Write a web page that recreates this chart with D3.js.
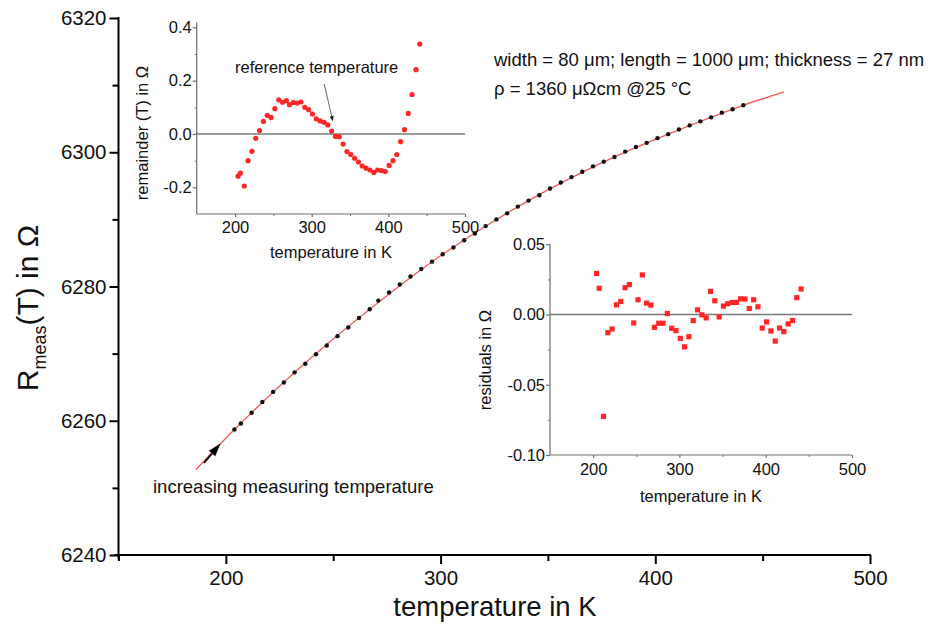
<!DOCTYPE html>
<html>
<head>
<meta charset="utf-8">
<script src="https://cdn.jsdelivr.net/npm/d3@7"></script>
<style>
  html, body { margin: 0; padding: 0; background: #fff; }
  svg { display: block; }
  text { font-family: "Liberation Sans", Arial, Helvetica, sans-serif; fill: #111; }
</style>
</head>
<body>
<svg id="chart" width="942" height="640"></svg>
<script>
// Measurement temperatures (K)
const temps = [204, 207, 212, 217, 222, 227, 232, 237, 242, 247, 252, 257, 262, 267, 271, 276, 281,
  286, 291, 296, 301, 306, 311, 316, 321, 326, 331, 336, 341, 346, 351, 356, 361, 366, 371, 376,
  381, 386, 391, 396, 401, 406, 411, 416, 421, 426, 431, 436, 441];

// Measured resistance R_meas(T) in Ohm
const rMeas = [6258.7, 6259.6, 6261.2, 6262.8, 6264.3, 6265.7, 6267.2, 6268.5, 6269.9, 6271.2,
  6272.6, 6273.9, 6275.3, 6276.6, 6277.9, 6279.1, 6280.3, 6281.5, 6282.6, 6283.7, 6284.8, 6285.8,
  6286.9, 6287.9, 6289.0, 6290.0, 6290.9, 6291.9, 6292.8, 6293.6, 6294.6, 6295.5, 6296.3, 6297.1,
  6297.9, 6298.6, 6299.3, 6300.1, 6300.8, 6301.4, 6302.1, 6302.7, 6303.4, 6304.0, 6304.6, 6305.2,
  6305.9, 6306.4, 6307.0];

// Fitted curve through the measurement
const fitTemps = [186, 204, 232, 267, 301, 341, 381, 421, 441, 460];
const fitR = [6252.7, 6258.7, 6267.2, 6276.6, 6284.8, 6292.8, 6299.3, 6304.6, 6307.0, 6309.0];

// Remainder after the linear part (Ohm)
const remainder = [-0.158, -0.147, -0.195, -0.100, -0.065, -0.016, 0.013, 0.047, 0.070, 0.062,
  0.095, 0.128, 0.119, 0.125, 0.110, 0.118, 0.116, 0.120, 0.100, 0.091, 0.075, 0.057, 0.049, 0.044,
  0.034, 0.011, -0.009, -0.010, -0.038, -0.066, -0.077, -0.091, -0.105, -0.120, -0.128, -0.135,
  -0.144, -0.135, -0.137, -0.141, -0.118, -0.100, -0.077, -0.029, 0.016, 0.077, 0.148, 0.241, 0.337];

// Fit residuals (Ohm)
const residuals = [0.0292, 0.0187, -0.0725, -0.0129, -0.0103, 0.0069, 0.0093, 0.0191, 0.0213,
  -0.0060, 0.0105, 0.0282, 0.0081, 0.0067, -0.0091, -0.0062, -0.0062, 0.0007, -0.0098, -0.0115,
  -0.0170, -0.0230, -0.0158, -0.0043, 0.0033, -0.0002, -0.0024, 0.0165, 0.0098, -0.0017, 0.0060,
  0.0077, 0.0086, 0.0086, 0.0112, 0.0110, 0.0043, 0.0105, 0.0055, -0.0096, -0.0053, -0.0117,
  -0.0189, -0.0096, -0.0122, -0.0067, -0.0043, 0.0120, 0.0182];

// Tick values
const mainXTicks = [200, 300, 400, 500];
const mainXMinor = [150, 250, 350, 450];
const mainYTicks = [6240, 6260, 6280, 6300, 6320];
const mainYMinor = [6250, 6270, 6290, 6310];
const insetXTicks = [200, 300, 400, 500];
const insetXMinor = [250, 350, 450];
const remYTicks = [-0.2, 0.0, 0.2, 0.4];
const remYMinor = [-0.1, 0.1, 0.3];
const resYTicks = [-0.10, -0.05, 0.00, 0.05];
const resYMinor = [-0.075, -0.025, 0.025];

const svg = d3.select("#chart");
const FONT = '"Liberation Sans", Arial, Helvetica, sans-serif';
const RED = "#ff2626";

// ---------- main plot ----------
const x = d3.scaleLinear().domain([150, 500]).range([118.5, 870]);
const y = d3.scaleLinear().domain([6240, 6320]).range([555, 18]);

const gMain = svg.append("g");

function styleAxis(g, color, width, fontSize) {
  g.select(".domain").remove();
  g.selectAll(".tick line").attr("stroke", color).attr("stroke-width", width);
  g.selectAll(".tick text").attr("fill", "#111").style("font-size", fontSize + "px").style("font-family", FONT);
}

gMain.append("g").attr("transform", `translate(0,${y(6240)})`)
  .call(d3.axisBottom(x).tickValues(mainXTicks).tickSize(9).tickSizeOuter(0).tickPadding(6).tickFormat(d3.format("d")))
  .call(g => styleAxis(g, "#000", 2, 20.5));
gMain.append("g").attr("transform", `translate(0,${y(6240)})`)
  .call(d3.axisBottom(x).tickValues(mainXMinor).tickSize(6).tickSizeOuter(0).tickFormat(""))
  .call(g => styleAxis(g, "#000", 2, 20.5));
gMain.append("g").attr("transform", `translate(${x(150)},0)`)
  .call(d3.axisLeft(y).tickValues(mainYTicks).tickSize(9).tickSizeOuter(0).tickPadding(3).tickFormat(d3.format("d")))
  .call(g => styleAxis(g, "#000", 2, 20.5));
gMain.append("g").attr("transform", `translate(${x(150)},0)`)
  .call(d3.axisLeft(y).tickValues(mainYMinor).tickSize(6).tickSizeOuter(0).tickFormat(""))
  .call(g => styleAxis(g, "#000", 2, 20.5));

// axis lines
gMain.append("line").attr("x1", x(150)).attr("x2", x(150)).attr("y1", y(6320) - 1).attr("y2", y(6240) + 4)
  .attr("stroke", "#000").attr("stroke-width", 2);
gMain.append("line").attr("x1", x(150) - 4).attr("x2", x(500) + 1).attr("y1", y(6240)).attr("y2", y(6240))
  .attr("stroke", "#000").attr("stroke-width", 2);

// axis titles
gMain.append("text").attr("x", 495).attr("y", 616).attr("text-anchor", "middle")
  .style("font-size", "27.5px").text("temperature in K");

const yTitle = gMain.append("text").attr("transform", "translate(38,308) rotate(-90)")
  .attr("text-anchor", "middle").style("font-size", "30px");
yTitle.append("tspan").text("R");
yTitle.append("tspan").attr("dy", 8).style("font-size", "18px").text("meas");
yTitle.append("tspan").attr("dy", -8).text("(T) in Ω");

// fitted curve
const fitPts = fitTemps.map((t, i) => [t, fitR[i]]);
gMain.append("path").datum(fitPts)
  .attr("d", d3.line().x(d => x(d[0])).y(d => y(d[1])).curve(d3.curveCatmullRom))
  .attr("fill", "none").attr("stroke", "#f45a5a").attr("stroke-width", 1.3);

// measured points
gMain.selectAll("circle.meas").data(temps.map((t, i) => [t, rMeas[i]])).join("circle")
  .attr("class", "meas").attr("cx", d => x(d[0])).attr("cy", d => y(d[1])).attr("r", 2.2)
  .attr("fill", "#111");

// direction arrow along the curve
const arrowTail = [189.8, 6253.7], arrowTip = [197.5, 6256.6];
(function () {
  const x0 = x(arrowTail[0]), y0 = y(arrowTail[1]), x1 = x(arrowTip[0]), y1 = y(arrowTip[1]);
  const ang = Math.atan2(y1 - y0, x1 - x0);
  const L = 13, Wd = 4.2;
  const bx = x1 - L * Math.cos(ang), by = y1 - L * Math.sin(ang);
  gMain.append("line").attr("x1", x0).attr("y1", y0).attr("x2", bx).attr("y2", by)
    .attr("stroke", "#000").attr("stroke-width", 1.8);
  gMain.append("path")
    .attr("d", `M${x1},${y1} L${bx - Wd * Math.sin(ang)},${by + Wd * Math.cos(ang)} L${bx + Wd * Math.sin(ang)},${by - Wd * Math.cos(ang)} Z`)
    .attr("fill", "#000");
})();

gMain.append("text").attr("x", 153).attr("y", 493).style("font-size", "18.5px")
  .text("increasing measuring temperature");

gMain.append("text").attr("x", 494).attr("y", 66).style("font-size", "18.5px")
  .text("width = 80 μm; length = 1000 μm; thickness = 27 nm");
gMain.append("text").attr("x", 494).attr("y", 95).style("font-size", "18.5px")
  .text("ρ = 1360 μΩcm @25 °C");

// ---------- inset helper ----------
function inset(opts) {
  const g = svg.append("g");
  const ix = d3.scaleLinear().domain([150, 500]).range(opts.xr);
  const iy = d3.scaleLinear().domain(opts.yd).range(opts.yr);
  const AX = "#6e6e6e";
  g.append("g").attr("transform", `translate(0,${opts.yr[0]})`)
    .call(d3.axisBottom(ix).tickValues(insetXTicks).tickSize(3).tickSizeOuter(0).tickPadding(opts.xPad).tickFormat(d3.format("d")))
    .call(a => styleAxis(a, AX, 1.2, 16.5));
  g.append("g").attr("transform", `translate(0,${opts.yr[0]})`)
    .call(d3.axisBottom(ix).tickValues(insetXMinor).tickSize(2).tickSizeOuter(0).tickFormat(""))
    .call(a => styleAxis(a, AX, 1, 16.5));
  g.append("g").attr("transform", `translate(${opts.xr[0]},0)`)
    .call(d3.axisLeft(iy).tickValues(opts.yTicks).tickSize(4).tickSizeOuter(0).tickPadding(1).tickFormat(opts.fmt))
    .call(a => styleAxis(a, AX, 1.2, 16.5));
  g.append("g").attr("transform", `translate(${opts.xr[0]},0)`)
    .call(d3.axisLeft(iy).tickValues(opts.yMinor).tickSize(2).tickSizeOuter(0).tickFormat(""))
    .call(a => styleAxis(a, AX, 1, 16.5));
  g.append("line").attr("x1", opts.xr[0]).attr("x2", opts.xr[0]).attr("y1", opts.yr[1] - opts.topExt).attr("y2", opts.yr[0])
    .attr("stroke", AX).attr("stroke-width", 1.2);
  g.append("line").attr("x1", opts.xr[0]).attr("x2", opts.xr[1]).attr("y1", opts.yr[0]).attr("y2", opts.yr[0])
    .attr("stroke", AX).attr("stroke-width", 1.2);
  // zero line
  g.append("line").attr("x1", opts.xr[0]).attr("x2", opts.xr[1]).attr("y1", iy(0)).attr("y2", iy(0))
    .attr("stroke", "#7a7a7a").attr("stroke-width", 1.6);
  g.append("text").attr("x", opts.xLabel[0]).attr("y", opts.xLabel[1]).attr("text-anchor", "middle")
    .style("font-size", "16.5px").text("temperature in K");
  g.append("text").attr("transform", `translate(${opts.yLabel[0]},${opts.yLabel[1]}) rotate(-90)`)
    .attr("text-anchor", "middle").style("font-size", "16.5px").text(opts.yTitle);
  return { g, ix, iy };
}

// ---------- inset: remainder ----------
const rem = inset({
  xr: [196.7, 465], yd: [-0.3, 0.4], yr: [214, 27.3], topExt: 5,
  yTicks: remYTicks, yMinor: remYMinor, fmt: d => d.toFixed(1), xPad: 4,
  xLabel: [331, 258], yLabel: [148, 133], yTitle: "remainder (T) in Ω"
});
rem.g.selectAll("circle.rem").data(temps.map((t, i) => [t, remainder[i]])).join("circle")
  .attr("class", "rem").attr("cx", d => rem.ix(d[0])).attr("cy", d => rem.iy(d[1])).attr("r", 2.6)
  .attr("fill", RED);

rem.g.append("text").attr("x", 235).attr("y", 73).style("font-size", "16.5px").text("reference temperature");
const refFrom = [316.4, 0.187], refTo = [327.6, 0.048];
(function () {
  const x0 = rem.ix(refFrom[0]), y0 = rem.iy(refFrom[1]), x1 = rem.ix(refTo[0]), y1 = rem.iy(refTo[1]);
  const ang = Math.atan2(y1 - y0, x1 - x0);
  const L = 5, Wd = 2;
  const bx = x1 - L * Math.cos(ang), by = y1 - L * Math.sin(ang);
  rem.g.append("line").attr("x1", x0).attr("y1", y0).attr("x2", bx).attr("y2", by)
    .attr("stroke", "#555").attr("stroke-width", 0.9);
  rem.g.append("path")
    .attr("d", `M${x1},${y1} L${bx - Wd * Math.sin(ang)},${by + Wd * Math.cos(ang)} L${bx + Wd * Math.sin(ang)},${by - Wd * Math.cos(ang)} Z`)
    .attr("fill", "#111");
})();

// ---------- inset: residuals ----------
const res = inset({
  xr: [550, 852], yd: [-0.10, 0.05], yr: [455, 244.3], topExt: 0,
  yTicks: resYTicks, yMinor: resYMinor, fmt: d => d.toFixed(2), xPad: 5,
  xLabel: [701, 502], yLabel: [491, 360], yTitle: "residuals in Ω"
});
res.g.selectAll("rect.res").data(temps.map((t, i) => [t, residuals[i]])).join("rect")
  .attr("class", "res").attr("x", d => res.ix(d[0]) - 2.6).attr("y", d => res.iy(d[1]) - 2.6)
  .attr("width", 5.2).attr("height", 5.2).attr("fill", RED);
</script>
</body>
</html>
